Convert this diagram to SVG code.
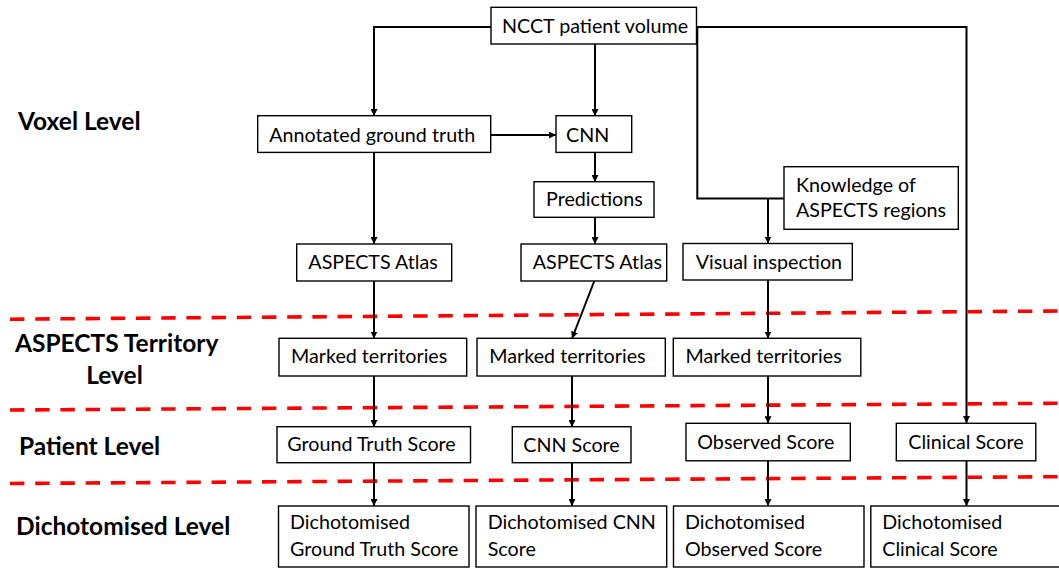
<svg xmlns="http://www.w3.org/2000/svg" width="1059" height="568" viewBox="0 0 1059 568">
  <defs>
    <marker id="arrow" viewBox="0 0 10 10" refX="10" refY="5" markerWidth="7" markerHeight="7" markerUnits="userSpaceOnUse" orient="auto">
      <path d="M0,0 L10,5 L0,10 z" fill="#000"/>
    </marker>
    <style>
      .box { fill: #fff; stroke: #000; stroke-width: 1.4; }
      .lbl { font-family: Lato, "Liberation Sans", sans-serif; font-size: 19.7px; fill: #000; }
      .lvl { font-family: Lato, "Liberation Sans", sans-serif; font-size: 24.5px; font-weight: bold; fill: #000; }
      .sep { fill: none; stroke: #ff0000; stroke-width: 3.6; stroke-dasharray: 14.4 10.8; }
      .conn { fill: none; stroke: #000; stroke-width: 2; }
      .conn.arr { marker-end: url(#arrow); }
    </style>
  </defs>
  <rect width="1059" height="568" fill="#fff"/>

  <!-- level separators -->
  <g id="separators">
    <line class="sep" x1="10" y1="319.2" x2="1059" y2="311"/>
    <line class="sep" x1="10" y1="410" x2="1059" y2="403.3"/>
    <line class="sep" x1="10" y1="483.5" x2="1059" y2="476.7"/>
  </g>

  <!-- level captions -->
  <g id="levels">
    <text class="lvl" x="18" y="130">Voxel Level</text>
    <text class="lvl" x="15" y="352">ASPECTS Territory</text>
    <text class="lvl" x="114.5" y="384" text-anchor="middle">Level</text>
    <text class="lvl" x="19" y="455">Patient Level</text>
    <text class="lvl" x="16" y="535">Dichotomised Level</text>
  </g>

  <!-- connectors -->
  <g id="connectors">
    <polyline class="conn arr" points="491,27 374,27 374,116"/>
    <line class="conn arr" x1="595" y1="44" x2="595" y2="116"/>
    <polyline class="conn arr" points="696.5,27 966.5,27 966.5,423"/>
    <polyline class="conn" points="697.3,27 697.3,198.5 784,198.5"/>
    <line class="conn arr" x1="768" y1="198.5" x2="768" y2="243.5"/>
    <line class="conn arr" x1="491" y1="135" x2="556" y2="135"/>
    <line class="conn arr" x1="374" y1="153" x2="374" y2="244"/>
    <line class="conn arr" x1="595" y1="153" x2="595" y2="182"/>
    <line class="conn arr" x1="595" y1="217" x2="595" y2="244"/>
    <line class="conn arr" x1="374" y1="281" x2="374" y2="338.5"/>
    <line class="conn arr" x1="594.3" y1="281" x2="572" y2="338.5"/>
    <line class="conn arr" x1="768" y1="280" x2="768" y2="338.5"/>
    <line class="conn arr" x1="374" y1="376" x2="374" y2="427"/>
    <line class="conn arr" x1="572" y1="376" x2="572" y2="427"/>
    <line class="conn arr" x1="768" y1="376" x2="768" y2="423.3"/>
    <line class="conn arr" x1="374" y1="463" x2="374" y2="506"/>
    <line class="conn arr" x1="572" y1="463" x2="572" y2="506"/>
    <line class="conn arr" x1="768" y1="461" x2="768" y2="506"/>
    <line class="conn arr" x1="966.5" y1="461" x2="966.5" y2="506"/>
  </g>

  <!-- voxel level -->
  <g id="ncct">
    <rect class="box" x="491" y="7.3" width="205.5" height="36.7"/>
    <text class="lbl" x="502" y="33">NCCT patient volume</text>
  </g>
  <g id="annotated">
    <rect class="box" x="257.7" y="115.7" width="233" height="36.7"/>
    <text class="lbl" x="269.3" y="141.7">Annotated ground truth</text>
  </g>
  <g id="cnn">
    <rect class="box" x="556" y="115.7" width="75.7" height="36.7"/>
    <text class="lbl" x="566" y="141.7">CNN</text>
  </g>
  <g id="predictions">
    <rect class="box" x="534" y="181.7" width="120" height="35.6"/>
    <text class="lbl" x="546" y="205.7">Predictions</text>
  </g>
  <g id="knowledge">
    <rect class="box" x="784" y="166.7" width="174.3" height="62.6"/>
    <text class="lbl" x="796" y="191.5">Knowledge of</text>
    <text class="lbl" x="796" y="217.3">ASPECTS regions</text>
  </g>
  <g id="atlas-gt">
    <rect class="box" x="296.7" y="244" width="155" height="37"/>
    <text class="lbl" x="308.3" y="269">ASPECTS Atlas</text>
  </g>
  <g id="atlas-cnn">
    <rect class="box" x="521" y="244" width="145.7" height="37"/>
    <text class="lbl" x="532.7" y="269">ASPECTS Atlas</text>
  </g>
  <g id="visual">
    <rect class="box" x="683" y="243.5" width="169.3" height="36.5"/>
    <text class="lbl" x="695.7" y="269.3">Visual inspection</text>
  </g>

  <!-- territory level -->
  <g id="marked-gt">
    <rect class="box" x="279" y="338.3" width="187.7" height="37.7"/>
    <text class="lbl" x="291" y="363.3">Marked territories</text>
  </g>
  <g id="marked-cnn">
    <rect class="box" x="477" y="338.3" width="188.3" height="37.7"/>
    <text class="lbl" x="489.3" y="363.3">Marked territories</text>
  </g>
  <g id="marked-obs">
    <rect class="box" x="673.3" y="338.3" width="187.5" height="37.7"/>
    <text class="lbl" x="685.4" y="363.3">Marked territories</text>
  </g>

  <!-- patient level -->
  <g id="score-gt">
    <rect class="box" x="277" y="426.7" width="193.5" height="36"/>
    <text class="lbl" x="287.3" y="451">Ground Truth Score</text>
  </g>
  <g id="score-cnn">
    <rect class="box" x="512.3" y="426.7" width="118.7" height="36"/>
    <text class="lbl" x="523.3" y="451.5">CNN Score</text>
  </g>
  <g id="score-obs">
    <rect class="box" x="686" y="423.3" width="164.3" height="37.5"/>
    <text class="lbl" x="697.3" y="449">Observed Score</text>
  </g>
  <g id="score-clin">
    <rect class="box" x="896.3" y="423.3" width="139.5" height="37.5"/>
    <text class="lbl" x="908.3" y="449">Clinical Score</text>
  </g>

  <!-- dichotomised level -->
  <g id="dich-gt">
    <rect class="box" x="278.5" y="506" width="190.5" height="61"/>
    <text class="lbl" x="290" y="529.3">Dichotomised</text>
    <text class="lbl" x="290" y="555.5">Ground Truth Score</text>
  </g>
  <g id="dich-cnn">
    <rect class="box" x="476" y="506" width="190.7" height="61"/>
    <text class="lbl" x="487.7" y="529.3">Dichotomised CNN</text>
    <text class="lbl" x="487.7" y="555.5">Score</text>
  </g>
  <g id="dich-obs">
    <rect class="box" x="673.5" y="506" width="190.5" height="61"/>
    <text class="lbl" x="685" y="529.3">Dichotomised</text>
    <text class="lbl" x="685" y="555.5">Observed Score</text>
  </g>
  <g id="dich-clin">
    <rect class="box" x="870.8" y="506" width="192" height="61"/>
    <text class="lbl" x="882.3" y="529.3">Dichotomised</text>
    <text class="lbl" x="882.3" y="555.5">Clinical Score</text>
  </g>
</svg>
